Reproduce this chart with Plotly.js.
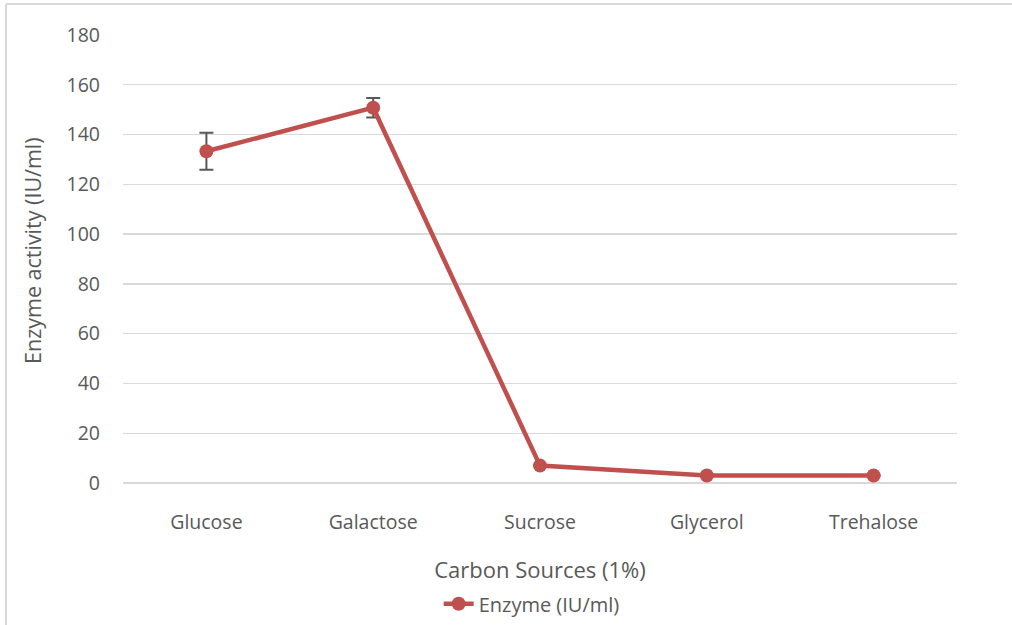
<!DOCTYPE html>
<html>
<head>
<meta charset="utf-8">
<script src="https://cdn.plot.ly/plotly-3.0.1.min.js"></script>
<style>html,body{margin:0;padding:0;background:#fff;}#chart{width:1012px;height:625px;}</style>
</head>
<body>
<div id="chart"></div>
<script>
const categories = ["Glucose", "Galactose", "Sucrose", "Glycerol", "Trehalose"];
const enzymeActivity = [133.3, 150.8, 7, 3, 3];
const errorValues = [7.4, 3.9, 0, 0, 0];
const yTicks = [0, 20, 40, 60, 80, 100, 120, 140, 160, 180];
const yTitle = "Enzyme activity (IU/ml)";

const trace = {
  x: categories,
  y: enzymeActivity,
  type: "scatter",
  mode: "lines+markers",
  name: "Enzyme (IU/ml)",
  line: {color: "#C0504D", width: 4.5},
  marker: {color: "#C0504D", size: 14},
  error_y: {type: "data", array: errorValues, visible: true, color: "#595959", thickness: 2, width: 7}
};

const layout = {
  width: 1012, height: 625,
  margin: {l: 123, r: 55, t: 35, b: 142},
  paper_bgcolor: "#ffffff",
  plot_bgcolor: "#ffffff",
  font: {family: "'Open Sans', sans-serif", color: "#595959", size: 19},
  showlegend: true,
  legend: {orientation: "h", x: 0.49, xanchor: "center", yref: "container", y: 0.034, yanchor: "middle", font: {size: 20, color: "#595959"}},
  xaxis: {
    type: "category",
    range: [-0.5, 4.5],
    automargin: false,
    showgrid: false, zeroline: false, showline: false,
    ticks: "", tickfont: {size: 19.5, color: "#595959"},
    ticklabelstandoff: 25,
    title: {text: "Carbon Sources (1%)", font: {size: 22, color: "#595959"}, standoff: 33}
  },
  yaxis: {
    range: [0, 180],
    automargin: false,
    tickvals: yTicks,
    showgrid: true, gridcolor: "#d9d9d9", gridwidth: 1.3,
    zeroline: true, zerolinecolor: "#d9d9d9", zerolinewidth: 1.3,
    showline: false, ticks: "",
    tickfont: {size: 19.5, color: "#595959"},
    ticklabelstandoff: 22
  },
  annotations: [
    {text: yTitle, textangle: -90, xref: "paper", yref: "paper", x: (33 - 123) / 834, y: (483 - 251) / 448,
     xanchor: "center", yanchor: "middle", showarrow: false, font: {size: 21.5, color: "#595959"}}
  ],
  shapes: [
    {type: "line", xref: "paper", yref: "paper", x0: -0.1403, x1: -0.1403, y0: 1.0692, y1: -0.32, line: {color: "#d9d9d9", width: 2}},
    {type: "line", xref: "paper", yref: "paper", x0: -0.1403, x1: 1.07, y0: 1.0692, y1: 1.0692, line: {color: "#d9d9d9", width: 2}}
  ]
};

Plotly.newPlot("chart", [trace], layout, {displayModeBar: false, staticPlot: true});
</script>
</body>
</html>
